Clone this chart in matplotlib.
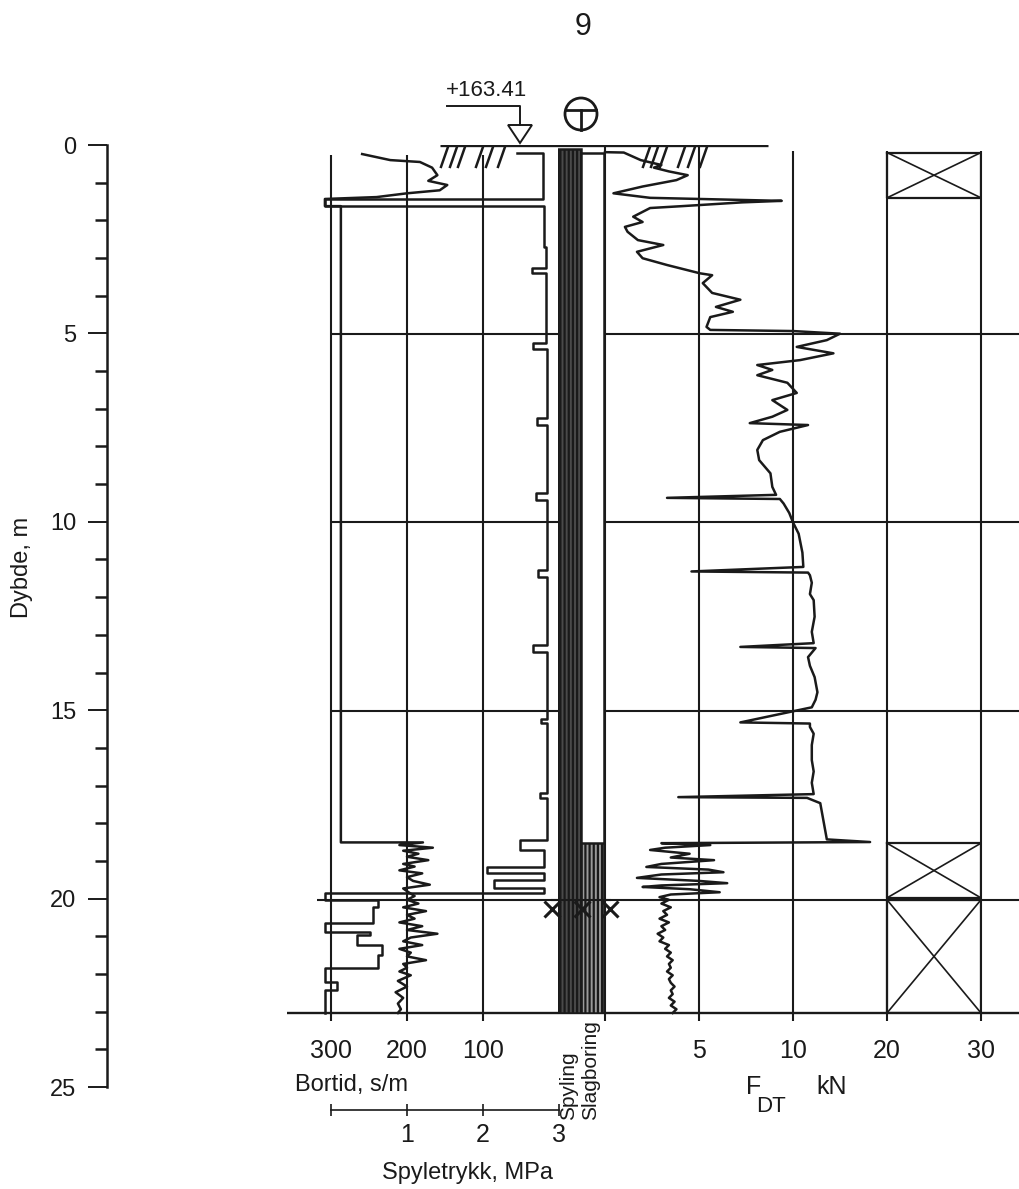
import numpy as np
import matplotlib.pyplot as plt
from matplotlib.patches import Circle, Polygon

W, H = 1019, 1189
INK = '#1a1a1a'

plt.rcParams['font.family'] = ['Liberation Sans', 'DejaVu Sans']
plt.rcParams['hatch.linewidth'] = 1.6
plt.rcParams['hatch.color'] = INK

# ---------------- data ----------------
depth_major = [0, 5, 10, 15, 20, 25]
bortid_ticks = [300, 200, 100]
pressure_ticks = [0, 1, 2, 3]
pressure_labels = ['', '1', '2', '3']
fdt_ticks = [5, 10, 20, 30]

# Bortid, s/m
bortid_depth = [0.24, 0.40, 0.45, 0.60, 0.80, 0.95, 1.06, 1.20, 1.28, 1.38, 1.43, 1.62, 1.62,
                18.48, 18.48, 18.55, 18.62, 18.70, 18.78, 18.86, 18.95, 19.05, 19.12, 19.22,
                19.30, 19.40, 19.50, 19.60, 19.70, 19.80, 19.90, 20.00, 20.10, 20.20, 20.30,
                20.40, 20.50, 20.60, 20.70, 20.80, 20.90, 21.00, 21.10, 21.20, 21.30, 21.40,
                21.50, 21.60, 21.70, 21.80, 21.90, 22.00, 22.15, 22.30, 22.45, 22.60, 22.75,
                22.90, 23.00]
bortid_value = [259, 222, 183, 167, 160, 172, 147, 157, 200, 240, 308, 308, 287,
                287, 179, 210, 166, 205, 185, 200, 172, 205, 190, 210,
                180, 200, 192, 170, 205, 198, 190, 200, 185, 205, 175,
                200, 190, 210, 180, 200, 160, 195, 205, 180, 210, 195,
                200, 175, 205, 200, 210, 195, 212, 200, 215, 205, 212,
                208, 212]

# Spyletrykk, MPa
pressure_depth = [0.20, 0.20, 1.43, 1.43, 1.62, 1.62, 2.70, 2.70, 3.25, 3.25, 3.40, 3.40,
                  5.25, 5.25, 5.40, 5.40, 7.24, 7.24, 7.43, 7.43, 9.23, 9.23, 9.41, 9.41,
                  11.27, 11.27, 11.45, 11.45, 13.25, 13.25, 13.43, 13.43, 15.20, 15.20,
                  15.32, 15.32, 17.18, 17.18, 17.30, 17.30, 18.42, 18.42, 18.68, 18.68,
                  19.13, 19.13, 19.29, 19.29, 19.47, 19.47, 19.68, 19.68, 19.82, 19.82,
                  20.00, 20.00, 20.19, 20.19, 20.61, 20.61, 20.85, 20.85, 20.93, 20.93,
                  21.20, 21.20, 21.46, 21.46, 21.81, 21.81, 22.18, 22.18, 22.39, 22.39, 23.00]
pressure_value = [2.45, 2.79, 2.79, -0.08, -0.08, 2.80, 2.80, 2.83, 2.83, 2.64, 2.64, 2.83,
                  2.83, 2.66, 2.66, 2.84, 2.84, 2.71, 2.71, 2.84, 2.84, 2.70, 2.70, 2.84,
                  2.84, 2.72, 2.72, 2.84, 2.84, 2.66, 2.66, 2.84, 2.84, 2.76,
                  2.76, 2.84, 2.84, 2.75, 2.75, 2.84, 2.84, 2.49, 2.49, 2.80,
                  2.80, 2.05, 2.05, 2.80, 2.80, 2.15, 2.15, 2.80, 2.80, -0.08,
                  -0.08, 0.62, 0.62, 0.55, 0.55, -0.08, -0.08, 0.51, 0.51, 0.34,
                  0.34, 0.67, 0.67, 0.62, 0.62, -0.08, -0.08, 0.08, 0.08, -0.08, -0.08]

# F_DT, kN
fdt_depth = [0.19, 0.20, 0.40, 0.53, 0.60, 0.70, 0.80, 0.93, 1.10, 1.28, 1.40, 1.43, 1.48,
             1.52, 1.62, 1.67, 1.90, 2.04, 2.17, 2.30, 2.52, 2.65, 2.83, 3.00, 3.18, 3.40,
             3.45, 3.66, 3.92, 4.10, 4.29, 4.42, 4.56, 4.82, 4.90, 4.93, 5.00, 5.17, 5.35,
             5.52, 5.70, 5.83, 5.96, 6.10, 6.30, 6.57, 6.76, 7.02, 7.20, 7.37, 7.42, 7.60,
             7.82, 8.08, 8.35, 8.70, 9.06, 9.27, 9.35, 9.38, 9.50, 9.75, 10.00, 10.30, 10.55,
             10.80, 11.18, 11.30, 11.33, 11.40, 11.60, 11.90, 12.06, 12.50, 12.90, 13.20,
             13.30, 13.33, 13.57, 13.80, 14.10, 14.50, 14.70, 14.90, 15.30, 15.33, 15.42,
             15.60, 15.90, 16.30, 16.60, 16.90, 17.20, 17.28, 17.30, 17.44, 18.40, 18.47,
             18.50, 18.55, 18.62, 18.68, 18.78, 18.88, 18.95, 19.05, 19.13, 19.20, 19.27,
             19.33, 19.42, 19.50, 19.56, 19.62, 19.66, 19.72, 19.80, 19.86, 19.93, 20.00,
             20.10, 20.20, 20.30, 20.40, 20.50, 20.60, 20.70, 20.80, 20.90, 21.00, 21.10,
             21.20, 21.30, 21.40, 21.50, 21.60, 21.70, 21.80, 21.90, 22.00, 22.10, 22.20,
             22.30, 22.40, 22.50, 22.60, 22.70, 22.80, 22.90, 23.00]
fdt_value = [0.0, 1.0, 1.9, 3.0, 2.6, 3.4, 4.4, 3.8, 2.0, 0.45, 2.4, 5.0, 9.4,
             7.3, 4.1, 2.4, 1.5, 2.0, 1.06, 1.2, 1.75, 3.1, 1.7, 2.0, 3.3, 5.05,
             5.7, 5.2, 5.7, 7.2, 5.9, 6.8, 5.6, 5.4, 5.6, 10.0, 15.0, 13.6, 10.4,
             14.3, 10.75, 8.1, 8.9, 8.1, 9.7, 10.4, 8.9, 9.7, 8.9, 7.7, 11.6, 9.3,
             8.4, 8.1, 8.2, 8.8, 8.9, 9.1, 3.3, 9.3, 9.5, 9.8, 10.0, 10.6, 10.8,
             11.0, 11.1, 4.6, 11.6, 11.8, 12.0, 11.8, 12.2, 12.3, 12.0, 12.2,
             7.2, 12.4, 11.6, 11.8, 12.3, 12.6, 12.4, 12.0, 7.2, 11.8, 11.8,
             12.2, 12.0, 12.0, 12.2, 12.0, 12.2, 3.9, 11.5, 12.9, 13.6, 18.2,
             3.0, 5.6, 3.2, 2.4, 4.5, 3.5, 5.8, 3.0, 2.2, 5.5, 6.3,
             3.0, 1.7, 5.0, 6.5, 3.0, 2.0, 4.5, 6.1, 3.5, 2.9, 3.4,
             3.0, 3.5, 3.1, 3.3, 2.9, 3.4, 3.0, 3.2, 2.8, 3.1, 2.9,
             3.4, 3.2, 3.5, 3.3, 3.6, 3.4, 3.5, 3.3, 3.6, 3.4, 3.5,
             3.7, 3.5, 3.6, 3.4, 3.7, 3.5, 3.8, 3.6]

# drilling modes (depth intervals) and crossed boxes
spyling_interval = (0.1, 23.0)
slagboring_interval = (18.5, 23.0)
cross_boxes = [(0.2, 1.4), (18.5, 19.95), (20.0, 23.0)]
grid_depths = [5, 10, 15]
bottom_depth = 23.0
ground_level = '+163.41'


def rect(x0, y0, x1, y1):
    return [x0 / W, 1 - y1 / H, (x1 - x0) / W, (y1 - y0) / H]


def fx(x):
    return x / W


def fy(y):
    return 1 - y / H


def fdt_forward(f):
    f = np.asarray(f, dtype=float)
    return np.where(f <= 10, f, 10 + (f - 10) / 2)


def fdt_inverse(u):
    u = np.asarray(u, dtype=float)
    return np.where(u <= 10, u, 10 + (u - 10) * 2)


fig = plt.figure(figsize=(W / 100, H / 100), dpi=100)

# (1): frame axes in pixel x, depth y (for long horizontal lines)
ax_g = fig.add_axes(rect(0, 145, W, 1013))
ax_g.set_xlim(0, W)
ax_g.set_ylim(bottom_depth, 0)
ax_g.axis('off')
ax_g.hlines(grid_depths, 331, W, color=INK, lw=1.5)
ax_g.hlines(20, 317, W, color=INK, lw=1.5)
ax_g.hlines(bottom_depth, 287, W, color=INK, lw=1.7, clip_on=False)
ax_g.hlines(0, 440, 768, color=INK, lw=2.4)
# ground hatching
for xt in [448, 457, 465, 483, 493, 505, 650, 658, 667, 685, 695, 707]:
    ax_g.plot([xt, xt - 7], [0.05, 0.58], color=INK, lw=1.8)

# (2): depth ruler
ax_d = fig.add_axes(rect(107, 145, 108, 1087))
ax_d.set_ylim(25, 0)
ax_d.set_xlim(0, 1)
for s in ['top', 'right', 'bottom']:
    ax_d.spines[s].set_visible(False)
ax_d.spines['left'].set_linewidth(1.8)
ax_d.spines['left'].set_color(INK)
ax_d.set_xticks([])
ax_d.set_yticks(depth_major)
ax_d.set_yticks(np.arange(0, 26, 1), minor=True)
ax_d.tick_params(axis='y', which='major', length=14, width=1.4, pad=8,
                 labelsize=17, colors=INK)
ax_d.tick_params(axis='y', which='minor', length=8.5, width=1.8, colors=INK)
fig.text(fx(22), fy(567), 'Dybde, m', rotation=90, ha='center', va='center',
         fontsize=17, color=INK)

# (3): Bortid and Spyletrykk
ax_b = fig.add_axes(rect(331, 145, 559, 1013))
ax_b.patch.set_alpha(0)
ax_b.set_xlim(300, 0)
ax_b.set_ylim(bottom_depth, 0)
for s in ax_b.spines.values():
    s.set_visible(False)
ax_b.set_yticks([])
ax_b.set_xticks(bortid_ticks)
ax_b.tick_params(axis='x', length=0, pad=19, labelsize=18, colors=INK)
ax_b.vlines(bortid_ticks, 0.26, 23.2, color=INK, lw=1.5, clip_on=False)
ax_b.plot(bortid_value, bortid_depth, color=INK, lw=1.8, clip_on=False)

ax_p = ax_b.twiny()
ax_p.set_xlim(0, 3)
ax_p.xaxis.set_ticks_position('bottom')
ax_p.xaxis.set_label_position('bottom')
for s in ['top', 'left', 'right']:
    ax_p.spines[s].set_visible(False)
ax_p.spines['bottom'].set_position(('outward', 70))
ax_p.spines['bottom'].set_linewidth(1.2)
ax_p.spines['bottom'].set_color(INK)
ax_p.set_xticks(pressure_ticks)
ax_p.set_xticklabels(pressure_labels)
ax_p.tick_params(axis='x', direction='inout', length=9, width=1.2, pad=5,
                 labelsize=18, colors=INK)
ax_p.plot(pressure_value, pressure_depth, color=INK, lw=1.8, clip_on=False)

fig.text(fx(295), fy(1085), 'Bortid, s/m', ha='left', va='center',
         fontsize=17, color=INK)
fig.text(fx(468), fy(1173), 'Spyletrykk, MPa', ha='center', va='center',
         fontsize=17, color=INK)

# (4): Spyling / Slagboring columns
ax_c = fig.add_axes(rect(558, 145, 604, 1013))
ax_c.patch.set_alpha(0)
ax_c.set_xlim(0, 2)
ax_c.set_ylim(bottom_depth, 0)
ax_c.axis('off')
ax_c.bar(0.5, spyling_interval[1] - spyling_interval[0], bottom=spyling_interval[0],
         width=1, color='#4a4a4a', edgecolor=INK, hatch='||||', lw=1.8)
ax_c.bar(1.5, bottom_depth - 0.2, bottom=0.2, width=1, color='white',
         edgecolor=INK, lw=1.8)
ax_c.bar(1.5, slagboring_interval[1] - slagboring_interval[0],
         bottom=slagboring_interval[0], width=1, color='#9a9a9a',
         edgecolor=INK, hatch='||||', lw=1.8)
ax_c.hlines(20.0, -0.3, 2.3, color=INK, lw=1.5, clip_on=False, zorder=5)
ax_c.plot([-0.26, 1.04, 2.26], [20.25, 20.25, 20.25], ls='none', marker='x',
          ms=11, mew=2.2, color=INK, clip_on=False, zorder=6)
fig.text(fx(569), fy(1120), 'Spyling', rotation=90, ha='center', va='bottom',
         fontsize=15, color=INK)
fig.text(fx(591), fy(1120), 'Slagboring', rotation=90, ha='center', va='bottom',
         fontsize=15, color=INK)

# (5): F_DT
ax_f = fig.add_axes(rect(605, 145, 981, 1013))
ax_f.patch.set_alpha(0)
ax_f.set_xscale('function', functions=(fdt_forward, fdt_inverse))
ax_f.set_xlim(0, 30)
ax_f.set_ylim(bottom_depth, 0)
for s in ax_f.spines.values():
    s.set_visible(False)
ax_f.set_yticks([])
ax_f.set_xticks(fdt_ticks)
ax_f.set_xticklabels([str(t) for t in fdt_ticks])
ax_f.xaxis.set_minor_locator(plt.NullLocator())
ax_f.tick_params(axis='x', length=0, pad=19, labelsize=18, colors=INK)
ax_f.vlines([0, 5], 0, 23.2, color=INK, lw=1.5, clip_on=False)
ax_f.vlines([10, 20, 30], 0.15, 23.2, color=INK, lw=1.5, clip_on=False)
ax_f.plot(fdt_value, fdt_depth, color=INK, lw=1.8, clip_on=False)
for top, bot in cross_boxes:
    ax_f.plot([20, 30, 30, 20, 20], [top, top, bot, bot, top], color=INK, lw=1.6)
    ax_f.plot([20, 30], [top, bot], color=INK, lw=1.2)
    ax_f.plot([20, 30], [bot, top], color=INK, lw=1.2)
fig.text(fx(746), fy(1087), 'F', ha='left', va='center', fontsize=18, color=INK)
fig.text(fx(756), fy(1106), 'DT', ha='left', va='center', fontsize=16, color=INK)
fig.text(fx(816), fy(1087), 'kN', ha='left', va='center', fontsize=18, color=INK)

# (6): symbols above the log (pixel overlay)
ax_o = fig.add_axes([0, 0, 1, 1])
ax_o.set_xlim(0, W)
ax_o.set_ylim(H, 0)
ax_o.axis('off')
ax_o.patch.set_alpha(0)
ax_o.plot([447, 520, 520], [106, 106, 125], color=INK, lw=1.4)
ax_o.add_patch(Polygon([[508, 125], [532, 125], [520, 143]], closed=True,
                       fill=False, edgecolor=INK, lw=1.4))
ax_o.add_patch(Circle((581, 114), 16, fill=False, edgecolor=INK, lw=2.0))
ax_o.plot([566, 596], [110, 110], color=INK, lw=2.0)
ax_o.plot([581, 581], [110, 130], color=INK, lw=2.0)
ax_o.text(487, 91, ground_level, ha='center', va='center', fontsize=16, color=INK)
ax_o.text(583, 27, '9', ha='center', va='center', fontsize=22, color=INK)

fig.savefig('out.png', dpi=100)
